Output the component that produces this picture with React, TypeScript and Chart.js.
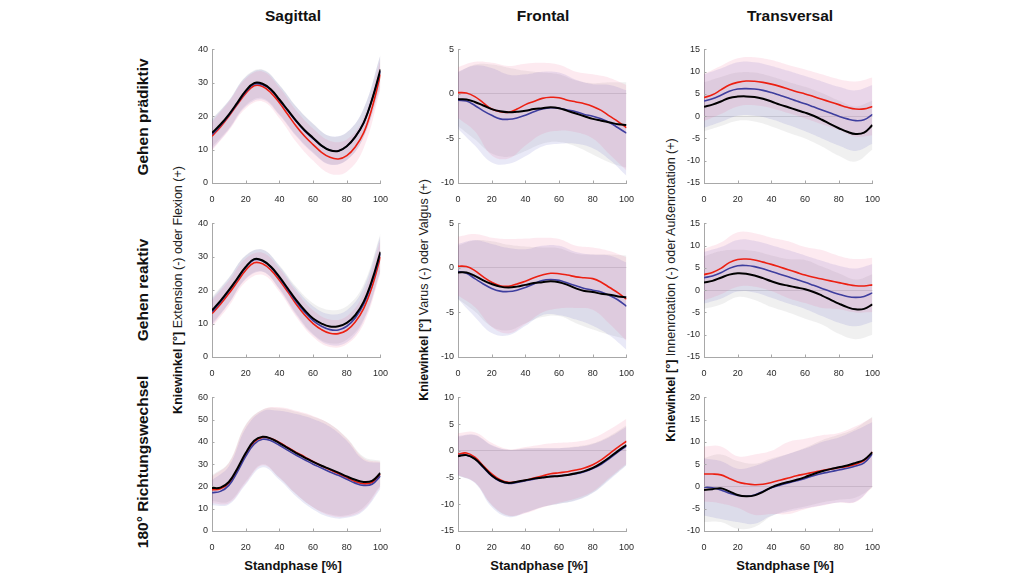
import React, { useEffect, useRef } from "react";
import { Chart, registerables } from "chart.js";
Chart.register(...registerables);

// ---------- data ----------
const X_MEAN = [0, 5, 10, 15, 20, 25, 30, 35, 40, 45, 50, 55, 60, 65, 70, 75, 80, 85, 90, 95, 100];
const X_SD = [0, 10, 20, 30, 40, 50, 60, 70, 80, 90, 100];
const X_TICKS = [0, 20, 40, 60, 80, 100];

const COL_TITLES = ["Sagittal", "Frontal", "Transversal"];
const ROW_TITLES = ["Gehen prädiktiv", "Gehen reaktiv", "180° Richtungswechsel"];
const Y_LABEL_BOLD = "Kniewinkel [°]";
const Y_LABEL_REST = ["Extension (-) oder Flexion (+)", "Varus (-) oder Valgus (+)", "Innenrotation (-) oder Außenrotation (+)"];
const X_LABEL = "Standphase [%]";

// Sagittal – Gehen prädiktiv
const sagPraedRed = [14, 16.8, 20, 23.5, 26.8, 29.1, 28.9, 27, 24, 20.5, 17, 14, 11.5, 9.2, 7.7, 7.2, 8.2, 10.8, 15, 22.5, 32.5];
const sagPraedBlue = [14.5, 17.2, 20.3, 23.8, 27.3, 29.6, 29.4, 27.8, 24.8, 21.6, 18.4, 15.6, 13.3, 11.1, 9.8, 9.6, 11, 13.8, 18, 25, 33.5];
const sagPraedBlack = [15, 17.5, 20.5, 24, 27.6, 29.9, 29.7, 28, 25, 21.8, 18.6, 15.8, 13.5, 11.2, 9.8, 9.6, 11, 13.8, 18, 25, 34];
const sagPraedRedSd = [4.3, 4.3, 4.5, 4.5, 4.6, 4.7, 4.8, 4.9, 4.8, 4.6, 4.5];
const sagPraedBlueSd = [4.4, 4.3, 4.4, 4.4, 4.5, 4.4, 4.4, 4.3, 4.2, 4.3, 4.8];
const sagPraedBlackSd = [4.2, 4.2, 4.3, 4.3, 4.4, 4.3, 4.3, 4.2, 4.1, 4.2, 4.5];

// Frontal – Gehen prädiktiv
const fronPraedRed = [0.15, 0.1, -0.3, -1.0, -1.7, -2.0, -2.05, -1.7, -1.2, -0.85, -0.5, -0.38, -0.42, -0.7, -0.9, -1.1, -1.4, -1.85, -2.5, -3.1, -3.8];
const fronPraedBlue = [-0.7, -0.8, -1.3, -1.9, -2.4, -2.8, -2.85, -2.7, -2.4, -2.0, -1.7, -1.55, -1.6, -1.8, -2.0, -2.3, -2.5, -2.8, -3.2, -3.8, -4.4];
const fronPraedBlack = [-0.6, -0.62, -0.9, -1.3, -1.7, -1.95, -2.05, -2.0, -1.9, -1.7, -1.6, -1.5, -1.6, -1.9, -2.2, -2.5, -2.8, -3.0, -3.2, -3.4, -3.5];
const fronPraedRedSd = [2.85, 3.9, 5.2, 5.2, 4.6, 4.0, 3.7, 3.4, 3.6, 4.3, 4.8];
const fronPraedBlueSd = [3.2, 4.5, 5.3, 5.0, 4.6, 4.2, 4.0, 3.6, 3.6, 4.2, 4.8];
const fronPraedBlackSd = [3.0, 4.2, 5.0, 5.0, 4.5, 4.0, 3.8, 3.7, 4.0, 4.5, 4.8];

// Transversal – Gehen prädiktiv
const transPraedRed = [4.2, 4.8, 5.9, 7.0, 7.6, 7.9, 7.85, 7.6, 7.2, 6.7, 6.1, 5.5, 5.0, 4.4, 3.8, 3.2, 2.6, 2.0, 1.6, 1.65, 2.2];
const transPraedBlue = [3.4, 3.9, 4.7, 5.6, 6.1, 6.2, 6.1, 5.8, 5.3, 4.7, 4.1, 3.4, 2.8, 2.1, 1.4, 0.7, 0.0, -0.6, -1.0, -0.8, 0.4];
const transPraedBlack = [2.1, 2.6, 3.3, 4.1, 4.4, 4.45, 4.3, 3.9, 3.3, 2.6, 2.0, 1.4, 0.8, 0.1, -0.8, -1.8, -2.7, -3.5, -4.0, -3.7, -2.0];
const transPraedRedSd = [5.3, 5.4, 5.4, 5.4, 5.4, 5.4, 5.5, 5.6, 5.7, 6.2, 6.5];
const transPraedBlueSd = [6.0, 6.0, 6.0, 6.0, 6.0, 6.1, 6.2, 6.4, 6.6, 6.8, 6.6];
const transPraedBlackSd = [5.5, 5.5, 5.4, 5.5, 5.6, 5.7, 5.8, 6.0, 6.2, 6.2, 5.5];

// Sagittal – Gehen reaktiv
const sagReakRed = [13, 15.8, 19, 22.5, 26, 28.2, 27.9, 26, 23, 19.5, 15.8, 12.6, 10, 8.2, 7.1, 7.0, 8.0, 10.5, 14.5, 21, 30];
const sagReakBlue = [13.5, 16.5, 19.8, 23.3, 26.8, 29.1, 28.8, 26.8, 23.7, 20.1, 16.5, 13.4, 10.9, 9.2, 8.2, 8.1, 9.2, 11.7, 15.8, 22.5, 31];
const sagReakBlack = [14, 16.8, 20, 23.5, 27, 29.3, 28.9, 27, 24, 20.5, 17, 14, 11.5, 10, 9.1, 9.2, 10.2, 12.5, 16.5, 23, 31.5];
const sagReakRedSd = [4.0, 3.8, 3.5, 3.3, 3.5, 3.8, 4.0, 4.1, 4.2, 4.6, 5.0];
const sagReakBlueSd = [4.0, 3.8, 3.5, 3.3, 3.5, 3.9, 4.3, 4.6, 4.8, 5.0, 5.3];
const sagReakBlackSd = [4.0, 3.8, 3.5, 3.3, 3.5, 4.0, 4.6, 5.0, 5.0, 5.2, 5.5];

// Frontal – Gehen reaktiv
const fronReakRed = [0.2, 0.15, -0.3, -1.0, -1.6, -2.0, -2.05, -1.8, -1.5, -1.1, -0.8, -0.6, -0.65, -0.8, -1.0, -1.1, -1.2, -1.6, -2.2, -2.8, -3.5];
const fronReakBlue = [-0.4, -0.6, -1.2, -1.8, -2.3, -2.6, -2.65, -2.5, -2.2, -1.8, -1.4, -1.3, -1.4, -1.7, -2.0, -2.3, -2.5, -2.7, -3.1, -3.6, -4.3];
const fronReakBlack = [-0.5, -0.52, -0.9, -1.4, -1.8, -2.1, -2.2, -2.1, -1.9, -1.7, -1.6, -1.5, -1.6, -1.9, -2.3, -2.6, -2.7, -2.9, -3.0, -3.2, -3.3];
const fronReakRedSd = [3.3, 4.1, 5.0, 5.3, 4.8, 4.2, 3.9, 3.5, 3.5, 4.1, 4.7];
const fronReakBlueSd = [3.1, 4.3, 5.0, 4.9, 4.3, 3.9, 3.9, 3.8, 4.0, 4.5, 4.9];
const fronReakBlackSd = [3.0, 4.0, 4.8, 4.8, 4.3, 3.9, 3.8, 3.9, 4.2, 4.5, 4.7];

// Transversal – Gehen reaktiv
const transReakRed = [3.5, 4.0, 4.9, 6.2, 6.9, 7.0, 6.8, 6.3, 5.8, 5.2, 4.6, 4.0, 3.4, 2.9, 2.5, 2.1, 1.7, 1.3, 1.0, 0.95, 1.2];
const transReakBlue = [2.8, 3.2, 3.9, 4.9, 5.5, 5.55, 5.3, 4.8, 4.2, 3.6, 3.0, 2.4, 1.8, 1.1, 0.4, -0.3, -0.9, -1.4, -1.6, -1.4, -0.6];
const transReakBlack = [1.7, 2.1, 2.8, 3.5, 3.8, 3.7, 3.3, 2.7, 2.0, 1.4, 1.0, 0.6, 0.2, -0.4, -1.2, -2.1, -3.0, -3.8, -4.3, -4.2, -3.2];
const transReakRedSd = [5.8, 5.8, 6.1, 6.0, 6.0, 6.4, 6.3, 6.5, 6.0, 6.0, 6.1];
const transReakBlueSd = [5.8, 5.8, 5.8, 5.8, 5.9, 6.0, 6.0, 6.2, 6.4, 6.5, 6.5];
const transReakBlackSd = [5.9, 6.0, 5.3, 5.5, 5.8, 6.0, 6.6, 6.5, 6.8, 6.7, 6.8];

// Sagittal – 180° Richtungswechsel
const sagRwRed = [18.5, 19, 21.5, 27.5, 34.5, 40, 42, 41.5, 39.8, 37.5, 35.3, 33.3, 31.2, 29.3, 27.5, 25.8, 24, 22.2, 21.2, 21.8, 25.5];
const sagRwBlue = [17.2, 17.8, 20.5, 26.5, 33.5, 39, 41.2, 40.5, 38.5, 36.2, 34, 32, 30, 28.3, 26.5, 25, 23.2, 21.5, 20.5, 21, 24.8];
const sagRwBlack = [19.3, 19.5, 22, 28, 35, 40.5, 42.3, 41.5, 39.5, 37.2, 35, 33, 31, 29.3, 27.8, 26.2, 24.5, 23, 22, 22.5, 26];
const sagRwRedSd = [6, 9, 13, 12.5, 15.8, 18.7, 20.5, 20.5, 17.5, 11.5, 5.5];
const sagRwBlueSd = [5.6, 8.6, 12.6, 12.6, 15.5, 18.5, 20.3, 20.3, 17.3, 11.4, 5.8];
const sagRwBlackSd = [5.8, 8.8, 12.8, 12.3, 15.6, 18.5, 20.3, 20.3, 17.4, 11.3, 5.5];

// Frontal – 180° Richtungswechsel
const fronRwRed = [-0.6, -0.4, -1.2, -2.8, -4.3, -5.4, -5.9, -5.8, -5.5, -5.1, -4.7, -4.3, -4.1, -3.9, -3.6, -3.2, -2.6, -1.7, -0.5, 0.7, 1.8];
const fronRwBlue = [-0.9, -0.8, -1.5, -3.1, -4.7, -5.7, -6.1, -5.9, -5.6, -5.3, -5.0, -4.8, -4.7, -4.5, -4.3, -3.9, -3.3, -2.5, -1.4, -0.2, 0.9];
const fronRwBlack = [-1.0, -0.8, -1.5, -3.0, -4.6, -5.6, -6.0, -5.8, -5.5, -5.2, -5.0, -4.8, -4.7, -4.5, -4.2, -3.8, -3.2, -2.3, -1.2, 0.0, 1.1];
const fronRwRedSd = [3.9, 4.7, 5.8, 6.2, 6.2, 5.9, 5.6, 5.3, 5.0, 4.5, 4.2];
const fronRwBlueSd = [3.7, 4.5, 5.8, 6.3, 6.0, 5.5, 5.2, 5.0, 4.6, 4.0, 3.6];
const fronRwBlackSd = [3.6, 4.4, 5.6, 6.2, 6.0, 5.5, 5.2, 5.0, 4.6, 4.0, 3.7];

// Transversal – 180° Richtungswechsel
const transRwRed = [2.8, 2.8, 2.6, 1.8, 1.0, 0.6, 0.4, 0.5, 0.9, 1.4, 1.9, 2.4, 2.8, 3.2, 3.6, 3.9, 4.2, 4.5, 5.0, 5.8, 7.7];
const transRwBlue = [-0.1, -0.3, -0.8, -1.5, -2.0, -2.2, -1.9, -1.1, -0.3, 0.3, 0.8, 1.3, 1.8, 2.4, 2.9, 3.3, 3.7, 4.1, 4.6, 5.3, 7.3];
const transRwBlack = [-0.8, -0.6, -0.4, -1.1, -1.9, -2.2, -2.0, -1.2, -0.2, 0.5, 1.0, 1.5, 2.1, 2.8, 3.4, 3.9, 4.3, 4.7, 5.3, 6.0, 7.7];
const transRwRedSd = [6.2, 6.4, 5.8, 6.8, 7.1, 8.1, 7.9, 7.9, 7.8, 8.5, 7.8];
const transRwBlueSd = [6.4, 6.5, 6.0, 6.5, 6.3, 6.5, 6.7, 7.1, 7.3, 8.0, 7.2];
const transRwBlackSd = [7.2, 7.6, 7.6, 7.1, 6.5, 6.3, 6.6, 7.0, 7.3, 7.8, 8.0];

// axis ranges per row/column: [min, max, step]
const Y_RANGES = [
  [[0, 40, 10], [-10, 5, 5], [-15, 15, 5]],
  [[0, 40, 10], [-10, 5, 5], [-15, 15, 5]],
  [[0, 60, 10], [-15, 10, 5], [-10, 20, 5]],
];

const PANELS = [
  [
    [sagPraedRed, sagPraedBlue, sagPraedBlack, sagPraedRedSd, sagPraedBlueSd, sagPraedBlackSd],
    [fronPraedRed, fronPraedBlue, fronPraedBlack, fronPraedRedSd, fronPraedBlueSd, fronPraedBlackSd],
    [transPraedRed, transPraedBlue, transPraedBlack, transPraedRedSd, transPraedBlueSd, transPraedBlackSd],
  ],
  [
    [sagReakRed, sagReakBlue, sagReakBlack, sagReakRedSd, sagReakBlueSd, sagReakBlackSd],
    [fronReakRed, fronReakBlue, fronReakBlack, fronReakRedSd, fronReakBlueSd, fronReakBlackSd],
    [transReakRed, transReakBlue, transReakBlack, transReakRedSd, transReakBlueSd, transReakBlackSd],
  ],
  [
    [sagRwRed, sagRwBlue, sagRwBlack, sagRwRedSd, sagRwBlueSd, sagRwBlackSd],
    [fronRwRed, fronRwBlue, fronRwBlack, fronRwRedSd, fronRwBlueSd, fronRwBlackSd],
    [transRwRed, transRwBlue, transRwBlack, transRwRedSd, transRwBlueSd, transRwBlackSd],
  ],
];

// ---------- style ----------
const FONT = '"Liberation Sans", Arial, Helvetica, sans-serif';
const RED = "rgb(236, 32, 18)";
const BLUE = "rgb(62, 62, 158)";
const BLACK = "#000000";
const FILL_RED = "rgba(240, 80, 130, 0.12)";
const FILL_BLUE = "rgba(70, 70, 190, 0.12)";
const FILL_GREY = "rgba(110, 110, 110, 0.10)";
const AXIS = "#a8a8a8";
const ZERO = "rgba(0,0,0,0.12)";
const TICK_COLOR = "#2a2a2a";

const COL_LEFT = [212, 458, 704];
const ROW_TOP = [48, 222, 396];
const PW = 171;
const PH = 135;
const Y_AXIS_W = 30;
const X_AXIS_H = 20;
const PAD_T = 8;
const PAD_R = 8;

const inwardTicks = {
  id: "inwardTicks",
  afterDraw(chart: any) {
    const { ctx, chartArea, scales } = chart;
    const xs = scales.x;
    const ys = scales.y;
    ctx.save();
    ctx.strokeStyle = AXIS;
    ctx.lineWidth = 1;
    ctx.beginPath();
    xs.ticks.forEach((t: any) => {
      const px = Math.round(xs.getPixelForValue(t.value)) + 0.5;
      ctx.moveTo(px, chartArea.bottom);
      ctx.lineTo(px, chartArea.bottom - 2.5);
    });
    ys.ticks.forEach((t: any) => {
      const py = Math.round(ys.getPixelForValue(t.value)) + 0.5;
      ctx.moveTo(chartArea.left, py);
      ctx.lineTo(chartArea.left + 2.5, py);
    });
    ctx.stroke();
    ctx.restore();
  },
};

function lineDs(mean: number[], color: string, width: number) {
  return {
    data: X_MEAN.map((x, i) => ({ x, y: mean[i] })),
    borderColor: color,
    borderWidth: width,
    pointRadius: 0,
    fill: false,
    tension: 0.4,
  };
}

function bandDs(mean: number[], sd: number[], color: string) {
  const m = X_SD.map((x) => mean[X_MEAN.indexOf(x)]);
  return [
    {
      data: X_SD.map((x, i) => ({ x, y: m[i] + sd[i] })),
      borderWidth: 0,
      borderColor: "transparent",
      backgroundColor: color,
      pointRadius: 0,
      fill: "+1",
      tension: 0.4,
    },
    {
      data: X_SD.map((x, i) => ({ x, y: m[i] - sd[i] })),
      borderWidth: 0,
      borderColor: "transparent",
      pointRadius: 0,
      fill: false,
      tension: 0.4,
    },
  ];
}

function Panel({ row, col }: { row: number; col: number }) {
  const ref = useRef<HTMLCanvasElement | null>(null);
  useEffect(() => {
    const [red, blue, black, redSd, blueSd, blackSd] = PANELS[row][col];
    const [yMin, yMax, yStep] = Y_RANGES[row][col];
    const showZero = yMin < 0;
    const tickFont = { family: FONT, size: 9 };
    const chart = new Chart(ref.current as HTMLCanvasElement, {
      type: "line",
      data: {
        datasets: [
          lineDs(black, BLACK, 2),
          lineDs(blue, BLUE, 1.6),
          lineDs(red, RED, 1.6),
          ...bandDs(red, redSd, FILL_RED),
          ...bandDs(blue, blueSd, FILL_BLUE),
          ...bandDs(black, blackSd, FILL_GREY),
        ] as any,
      },
      options: {
        animation: false,
        responsive: true,
        maintainAspectRatio: false,
        events: [],
        layout: { padding: { top: PAD_T, right: PAD_R, left: 0, bottom: 0 } },
        plugins: { legend: { display: false }, tooltip: { enabled: false } },
        scales: {
          x: {
            type: "linear",
            min: 0,
            max: 100,
            afterBuildTicks: (s: any) => {
              s.ticks = X_TICKS.map((v) => ({ value: v }));
            },
            afterFit: (s: any) => {
              s.height = X_AXIS_H;
            },
            ticks: { font: tickFont, color: TICK_COLOR, padding: 3, maxRotation: 0, autoSkip: false },
            grid: { display: false },
            border: { display: true, color: AXIS, width: 1 },
          },
          y: {
            type: "linear",
            min: yMin,
            max: yMax,
            afterFit: (s: any) => {
              s.width = Y_AXIS_W;
            },
            ticks: { stepSize: yStep, font: tickFont, color: TICK_COLOR, padding: 4 },
            grid: {
              display: showZero,
              drawTicks: false,
              color: (ctx: any) => (ctx.tick && ctx.tick.value === 0 ? ZERO : "transparent"),
              lineWidth: 1,
            },
            border: { display: true, color: AXIS, width: 1 },
          },
        },
      } as any,
      plugins: [inwardTicks as any],
    });
    return () => chart.destroy();
  }, [row, col]);

  return (
    <div
      style={{
        position: "absolute",
        left: COL_LEFT[col] - Y_AXIS_W,
        top: ROW_TOP[row] - PAD_T,
        width: PW + Y_AXIS_W + PAD_R,
        height: PH + PAD_T + X_AXIS_H,
      }}
    >
      <canvas ref={ref} />
    </div>
  );
}

const TITLE_POS = [
  [293, 16],
  [543, 16],
  [790, 16],
];
const ROW_LABEL_POS = [
  [142.5, 117],
  [142.5, 290],
  [142.5, 462],
];
const Y_LABEL_POS = [
  [178, 290],
  [424, 290],
  [671, 290],
];
const X_LABEL_POS = [
  [293, 565],
  [539, 565],
  [785, 565],
];

function centered(cx: number, cy: number, rotate: boolean): React.CSSProperties {
  return {
    position: "absolute",
    left: cx,
    top: cy,
    transform: rotate ? "translate(-50%, -50%) rotate(-90deg)" : "translate(-50%, -50%)",
    whiteSpace: "nowrap",
    lineHeight: 1,
  };
}

export default function App() {
  return (
    <div
      style={{
        position: "absolute",
        left: 0,
        top: 0,
        width: 1024,
        height: 576,
        background: "#fff",
        fontFamily: FONT,
        color: "#111",
        overflow: "hidden",
      }}
    >
      {COL_TITLES.map((t, i) => (
        <div key={"t" + i} style={{ ...centered(TITLE_POS[i][0], TITLE_POS[i][1], false), fontWeight: 700, fontSize: 15.5 }}>
          {t}
        </div>
      ))}
      {ROW_TITLES.map((t, i) => (
        <div key={"r" + i} style={{ ...centered(ROW_LABEL_POS[i][0], ROW_LABEL_POS[i][1], true), fontWeight: 700, fontSize: 15.5 }}>
          {t}
        </div>
      ))}
      {Y_LABEL_REST.map((t, i) => (
        <div key={"y" + i} style={{ ...centered(Y_LABEL_POS[i][0], Y_LABEL_POS[i][1], true), fontSize: 12.5, color: "#222" }}>
          <span style={{ fontWeight: 700, color: "#111" }}>{Y_LABEL_BOLD}</span> {t}
        </div>
      ))}
      {X_LABEL_POS.map((p, i) => (
        <div key={"x" + i} style={{ ...centered(p[0], p[1], false), fontWeight: 700, fontSize: 13 }}>
          {X_LABEL}
        </div>
      ))}
      {[0, 1, 2].map((r) => [0, 1, 2].map((c) => <Panel key={r + "-" + c} row={r} col={c} />))}
    </div>
  );
}
